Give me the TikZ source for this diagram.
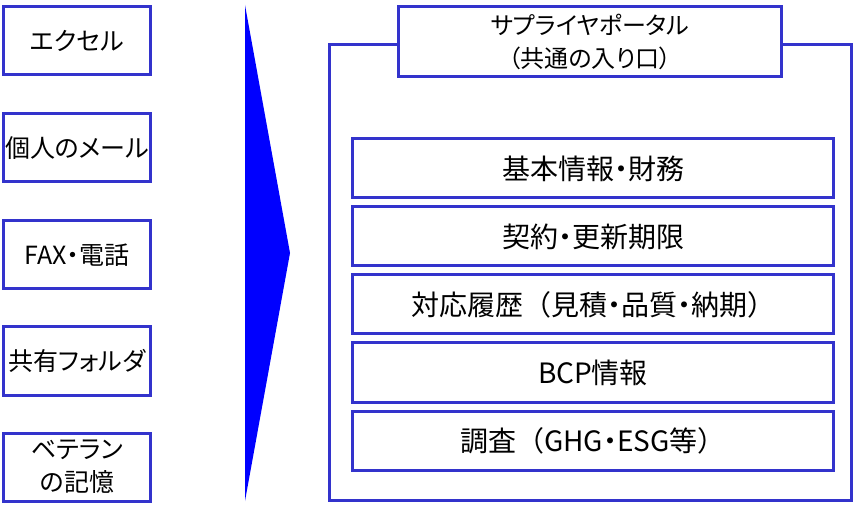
\documentclass[tikz,border=0pt]{standalone}
\usepackage{fontspec}
\setmainfont{Noto Sans CJK JP}[RawFeature={+palt}]
\newfontfamily\plainjp{Noto Sans CJK JP}
\newcommand{\zlp}{{\plainjp （}}
\newcommand{\zrp}{{\plainjp ）}}
\usepackage{xcolor}
\usepackage{tikz}
\usetikzlibrary{positioning}

\definecolor{boxblue}{RGB}{51,51,204}
\definecolor{arrowblue}{RGB}{0,0,255}

\tikzset{
    srcbox/.style={draw=boxblue, line width=3pt, fill=white, minimum width=147pt, minimum height=68pt, inner sep=0pt, align=center, font=\fontsize{25}{33}\selectfont},
    itembox/.style={draw=boxblue, line width=3pt, fill=white, minimum width=481pt, minimum height=59pt, inner sep=0pt, align=center, font=\fontsize{28}{33}\selectfont},
    portalbox/.style={draw=boxblue, line width=3pt, fill=white, minimum width=383pt, minimum height=70pt, inner sep=0pt, align=center, font=\fontsize{24}{33}\selectfont}
}

\begin{document}
\begin{tikzpicture}[x=1pt, y=-1pt]
    \useasboundingbox (0,0) rectangle (855,505);
    % Current sources
    \node[srcbox] (excel) at (77, 41) {エクセル};
    \node[srcbox] (mail) at (77, 148) {個人のメール};
    \node[srcbox] (fax) at (77, 255) {FAX・電話};
    \node[srcbox] (share) at (77, 361) {共有フォルダ};
    \node[srcbox] (veteran) at (77, 467) {ベテラン\\の記憶};
    % Big arrow
    \fill[arrowblue] (245, 5) -- (290, 253) -- (245, 501) -- cycle;
    % Portal frame
    \draw[boxblue, line width=3pt] (329.5, 44.5) rectangle (851.5, 500.5);
    \node[portalbox] (portal) at (590, 41.5) {サプライヤポータル\\（共通の入り口）};
    % Contents
    \node[itembox] (basic) at (593, 168.5) {基本情報・財務};
    \node[itembox, below=6pt of basic] (contract) {契約・更新期限};
    \node[itembox, below=6pt of contract] (history) {対応履歴\zlp 見積・品質・納期\zrp};
    \node[itembox, below=6pt of history] (bcp) {BCP情報};
    \node[itembox, below=6pt of bcp] (survey) {調査\zlp GHG・ESG等\zrp};
\end{tikzpicture}
\end{document}
